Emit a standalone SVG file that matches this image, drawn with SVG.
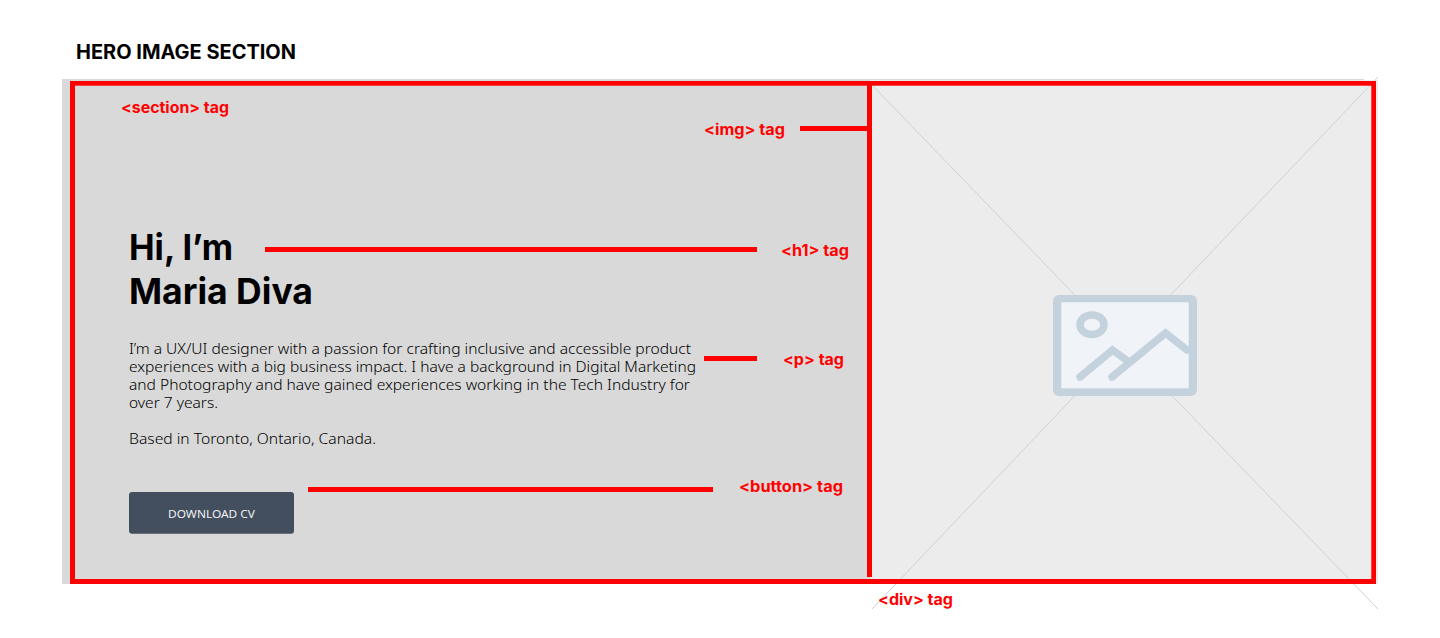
<svg xmlns="http://www.w3.org/2000/svg" width="1440" height="638" viewBox="0 0 1440 638">
<style>
.tag{font-family:Inter,"Liberation Sans",sans-serif;font-weight:700;font-size:15.5px;fill:#ff0000}
.body{font-family:"Noto Sans","Open Sans",sans-serif;font-weight:300;font-size:15px;fill:#000}
.h1{font-family:Inter,"Liberation Sans",sans-serif;font-weight:700;font-size:35.5px;fill:#000}
.red{fill:#ff0000}
.diag{stroke:#c5d3dc;stroke-width:1;fill:none}
.ico{stroke:#c3d2dc;stroke-width:7.5;fill:none;stroke-linecap:round;stroke-linejoin:miter}
</style>
<rect width="1440" height="638" fill="#fff"/>
<text id="title" x="76" y="59" font-family="Inter,'Liberation Sans',sans-serif" font-weight="700" font-size="19.5" fill="#000" textLength="220" lengthAdjust="spacingAndGlyphs">HERO IMAGE SECTION</text>
<g id="section">
<rect x="62" y="79" width="1302" height="505" fill="#d9d9d9"/>
<text class="tag" x="121" y="113" textLength="108" lengthAdjust="spacingAndGlyphs">&lt;section&gt; tag</text>
</g>
<g id="image">
<rect x="870" y="80" width="508" height="504" fill="#ececec"/>
<path class="diag" d="M872 85L1378 609M872 609L1378 77"/>
<rect x="1053" y="295" width="144" height="101" rx="6" fill="#c3d2dc"/>
<rect x="1061.3" y="302.3" width="127.4" height="86" fill="#f0f4f8"/>
<ellipse class="ico" cx="1092" cy="324.7" rx="12" ry="9.8"/>
<path class="ico" d="M1080 377L1112.5 350L1129 362"/>
<path class="ico" d="M1112 377L1165.5 333L1187 350"/>
</g>
<g id="frame" class="red">
<rect x="70" y="81" width="1306" height="4.7"/>
<rect x="70" y="579" width="1306" height="5"/>
<rect x="70" y="81" width="5" height="503"/>
<rect x="1371.3" y="81" width="4.7" height="503"/>
<rect x="867" y="81" width="5" height="496"/>
</g>
<g id="heading">
<text class="h1" x="129" y="260" textLength="104" lengthAdjust="spacingAndGlyphs">Hi, I’m</text>
<text class="h1" x="129" y="304" textLength="184" lengthAdjust="spacingAndGlyphs">Maria Diva</text>
</g>
<g id="copy">
<text class="body" x="129" y="354" textLength="562" lengthAdjust="spacingAndGlyphs">I’m a UX/UI designer with a passion for crafting inclusive and accessible product</text>
<text class="body" x="129" y="372" textLength="567" lengthAdjust="spacingAndGlyphs">experiences with a big business impact. I have a background in Digital Marketing</text>
<text class="body" x="129" y="390" textLength="561" lengthAdjust="spacingAndGlyphs">and Photography and have gained experiences working in the Tech Industry for</text>
<text class="body" x="129" y="408" textLength="89" lengthAdjust="spacingAndGlyphs">over 7 years.</text>
<text class="body" x="129" y="444" textLength="247" lengthAdjust="spacingAndGlyphs">Based in Toronto, Ontario, Canada.</text>
</g>
<g id="button">
<rect x="129" y="492" width="165" height="41.7" rx="3" fill="#434e5e"/>
<text x="168" y="517.5" font-family="'Noto Sans','Open Sans',sans-serif" font-size="11.5" fill="#eef0f3" textLength="87" lengthAdjust="spacingAndGlyphs">DOWNLOAD CV</text>
</g>
<g id="connectors" class="red">
<rect x="800" y="126" width="68" height="5"/>
<rect x="265" y="247" width="492" height="5"/>
<rect x="704" y="356" width="53" height="5"/>
<rect x="308" y="487" width="405" height="5"/>
</g>
<g id="labels">
<text class="tag" x="704" y="135" textLength="81" lengthAdjust="spacingAndGlyphs">&lt;img&gt; tag</text>
<text class="tag" x="781" y="256" textLength="68" lengthAdjust="spacingAndGlyphs">&lt;h1&gt; tag</text>
<text class="tag" x="783" y="365" textLength="61" lengthAdjust="spacingAndGlyphs">&lt;p&gt; tag</text>
<text class="tag" x="739" y="492" textLength="104" lengthAdjust="spacingAndGlyphs">&lt;button&gt; tag</text>
<text class="tag" x="878" y="605" textLength="75" lengthAdjust="spacingAndGlyphs">&lt;div&gt; tag</text>
</g>
</svg>
